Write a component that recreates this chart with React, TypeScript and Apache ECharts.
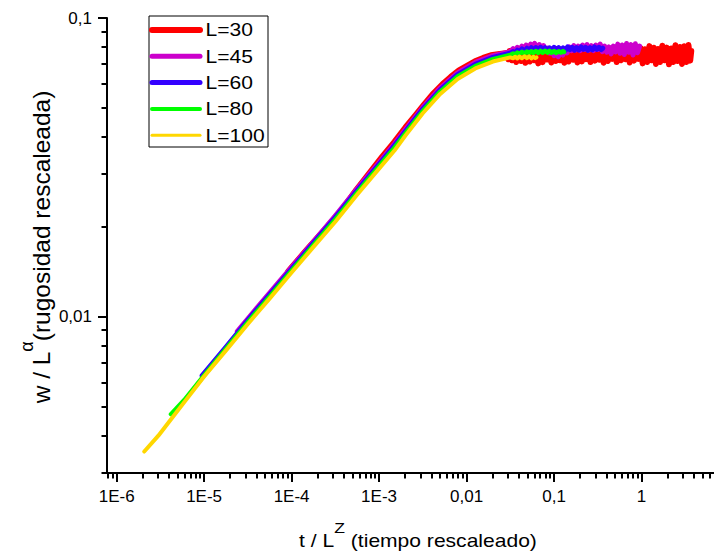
import React, { useEffect, useRef } from 'react';
import * as echarts from 'echarts';

const seriesNames = ['L=30', 'L=45', 'L=60', 'L=80', 'L=100'];
const seriesColors = ['#FF0000', '#CC00CC', '#3300FF', '#00FF00', '#FFD700'];
const seriesWidths = [6, 5, 5, 4.5, 4];
const legendWidths = [6, 5, 5, 4, 3];

const xTickValues = [1e-6, 1e-5, 1e-4, 1e-3, 0.01, 0.1, 1];
const xTickLabels = ['1E-6', '1E-5', '1E-4', '1E-3', '0,01', '0,1', '1'];
const yTickValues = [0.01, 0.1];
const yTickLabels = ['0,01', '0,1'];
const xRange = [7.76e-7, 10];
const yRange = [0.003, 0.1];

const dataL30: [number, number][] = [
  [9.2e-5, 0.0142], [1.5e-4, 0.0168], [2.4e-4, 0.0196], [3.7e-4, 0.0227], [5.5e-4, 0.0266],
  [8e-4, 0.0306], [1.1e-3, 0.0345], [1.5e-3, 0.0385], [2e-3, 0.043], [2.6e-3, 0.0472],
  [3.3e-3, 0.0515], [4.2e-3, 0.056], [5.3e-3, 0.06], [6.6e-3, 0.0635], [8.2e-3, 0.0668],
  [0.01, 0.069], [0.0125, 0.0716], [0.0155, 0.0735], [0.019, 0.075], [0.024, 0.0758],
  [0.028, 0.0762], [0.030, 0.0728], [0.031, 0.0775], [0.033, 0.0722], [0.035, 0.0768],
  [0.037, 0.0712], [0.040, 0.0758], [0.042, 0.0718], [0.044, 0.0772], [0.047, 0.0708],
  [0.050, 0.0765], [0.053, 0.0715], [0.056, 0.078], [0.059, 0.0722], [0.062, 0.077],
  [0.066, 0.0705], [0.070, 0.0762], [0.074, 0.0712], [0.079, 0.0775], [0.083, 0.0726],
  [0.088, 0.0768], [0.093, 0.071], [0.099, 0.076], [0.105, 0.0718], [0.11, 0.0778],
  [0.117, 0.0722], [0.124, 0.077], [0.131, 0.0708], [0.139, 0.0766], [0.147, 0.0715],
  [0.156, 0.0782], [0.165, 0.0725], [0.175, 0.0772], [0.185, 0.071], [0.196, 0.0768],
  [0.208, 0.0716], [0.22, 0.0785], [0.233, 0.0728], [0.247, 0.0775], [0.261, 0.0712],
  [0.277, 0.077], [0.293, 0.072], [0.31, 0.0788], [0.329, 0.0725], [0.348, 0.0776],
  [0.369, 0.0708], [0.39, 0.0772], [0.413, 0.0718], [0.438, 0.079], [0.464, 0.073],
  [0.491, 0.0778], [0.52, 0.0712], [0.55, 0.0775], [0.583, 0.0722], [0.617, 0.0792],
  [0.654, 0.0728], [0.692, 0.078], [0.733, 0.071], [0.776, 0.0774], [0.822, 0.072],
  [0.87, 0.0795], [0.922, 0.073], [0.976, 0.0792], [1.03, 0.0705], [1.09, 0.0786],
  [1.16, 0.0712], [1.23, 0.0805], [1.3, 0.0722], [1.38, 0.0795], [1.46, 0.0702],
  [1.54, 0.0788], [1.63, 0.0712], [1.73, 0.0808], [1.83, 0.0722], [1.94, 0.0796],
  [2.06, 0.07], [2.18, 0.079], [2.3, 0.0712], [2.44, 0.081], [2.58, 0.0718],
  [2.74, 0.08], [2.9, 0.0702], [3.07, 0.0805], [3.25, 0.0712], [3.44, 0.0812],
  [3.6, 0.072], [3.7, 0.0775],
];

const dataL45: [number, number][] = [
  [2.4e-5, 0.00893], [4e-5, 0.0107], [6.5e-5, 0.01265], [1e-4, 0.01465], [1.8e-4, 0.0179],
  [3.16e-4, 0.02178], [5.6e-4, 0.0268], [1e-3, 0.0328], [1.5e-3, 0.0379], [2e-3, 0.0423],
  [3.16e-3, 0.0502], [5e-3, 0.0583], [7.9e-3, 0.0655], [0.0126, 0.071], [0.02, 0.0748],
  [0.0316, 0.0772], [0.034, 0.079], [0.036, 0.0772], [0.038, 0.0798], [0.040, 0.0778],
  [0.043, 0.0805], [0.045, 0.0782], [0.048, 0.0812], [0.051, 0.0785], [0.054, 0.0818],
  [0.057, 0.079], [0.060, 0.0822], [0.064, 0.0795], [0.068, 0.0815], [0.072, 0.0788],
  [0.076, 0.0808], [0.080, 0.0775], [0.085, 0.0792], [0.090, 0.0762], [0.095, 0.078],
  [0.1, 0.0748], [0.106, 0.077], [0.112, 0.0742], [0.119, 0.0768], [0.126, 0.0752],
  [0.133, 0.0785], [0.141, 0.0765], [0.15, 0.08], [0.159, 0.0778], [0.168, 0.0808],
  [0.178, 0.0782], [0.189, 0.0805], [0.2, 0.0778], [0.212, 0.0812], [0.225, 0.0785],
  [0.238, 0.0815], [0.252, 0.078], [0.267, 0.0808], [0.283, 0.0778], [0.3, 0.0812],
  [0.318, 0.0785], [0.337, 0.0818], [0.357, 0.0772], [0.378, 0.0805], [0.4, 0.0768],
  [0.424, 0.08], [0.45, 0.0758], [0.476, 0.0805], [0.505, 0.077], [0.535, 0.0818],
  [0.567, 0.0762], [0.6, 0.0812], [0.636, 0.0755], [0.674, 0.0822], [0.714, 0.0768],
  [0.757, 0.0815], [0.8, 0.0752], [0.85, 0.082], [0.9, 0.0765], [0.95, 0.0805],
];

const dataL60: [number, number][] = [
  [9.5e-6, 0.00635], [1.8e-5, 0.00795], [3.16e-5, 0.00973], [5.6e-5, 0.01185], [1e-4, 0.01445],
  [1.8e-4, 0.0177], [3.16e-4, 0.02148], [5.6e-4, 0.0264], [1e-3, 0.03236], [1.5e-3, 0.0374],
  [2e-3, 0.0417], [3.16e-3, 0.04955], [5e-3, 0.0575], [7.9e-3, 0.0646], [0.0126, 0.07],
  [0.02, 0.0738], [0.0316, 0.0762], [0.034, 0.0772], [0.036, 0.0765], [0.038, 0.078],
  [0.040, 0.077], [0.043, 0.0788], [0.046, 0.0775], [0.049, 0.0792], [0.052, 0.0778],
  [0.055, 0.0795], [0.058, 0.078], [0.062, 0.0796], [0.066, 0.0782], [0.07, 0.0798],
  [0.074, 0.078], [0.079, 0.0795], [0.084, 0.0778], [0.089, 0.0794], [0.094, 0.078],
  [0.1, 0.0798], [0.106, 0.0782], [0.113, 0.0796], [0.12, 0.0778], [0.127, 0.0794],
  [0.135, 0.078], [0.143, 0.08], [0.152, 0.0784], [0.161, 0.0798], [0.171, 0.078],
  [0.181, 0.0796], [0.192, 0.0782], [0.204, 0.08], [0.216, 0.0785], [0.229, 0.0798],
  [0.243, 0.078], [0.258, 0.0795], [0.274, 0.0782], [0.29, 0.08], [0.308, 0.0785],
  [0.326, 0.0798], [0.346, 0.0784], [0.36, 0.0792],
];

const dataL80: [number, number][] = [
  [4.18e-6, 0.00472], [6e-6, 0.00528], [1e-5, 0.00637], [1.8e-5, 0.00785], [3.16e-5, 0.0096],
  [5.6e-5, 0.01168], [1e-4, 0.01425], [1.8e-4, 0.01745], [3.16e-4, 0.02118], [5.6e-4, 0.026],
  [1e-3, 0.0319], [1.5e-3, 0.0368], [2e-3, 0.0411], [3.16e-3, 0.0488], [5e-3, 0.0567],
  [7.9e-3, 0.0637], [0.0126, 0.069], [0.02, 0.0728], [0.0316, 0.0752], [0.034, 0.076],
  [0.036, 0.0755], [0.038, 0.0766], [0.040, 0.0758], [0.043, 0.077], [0.046, 0.076],
  [0.049, 0.0772], [0.052, 0.0762], [0.055, 0.0774], [0.058, 0.0763], [0.062, 0.0775],
  [0.066, 0.0764], [0.07, 0.0776], [0.074, 0.0765], [0.079, 0.0777], [0.084, 0.0766],
  [0.089, 0.0776], [0.094, 0.0765], [0.1, 0.0775], [0.106, 0.0764], [0.113, 0.0774],
  [0.12, 0.0766], [0.127, 0.0775], [0.13, 0.077],
];

const dataL100: [number, number][] = [
  [2.07e-6, 0.00354], [3e-6, 0.004], [4e-6, 0.00446], [6e-6, 0.0052], [1e-5, 0.00631],
  [1.8e-5, 0.00775], [3.16e-5, 0.00946], [5.6e-5, 0.0115], [1e-4, 0.01406], [1.8e-4, 0.0172],
  [3.16e-4, 0.0208], [5.6e-4, 0.0256], [1e-3, 0.03133], [1.5e-3, 0.036], [2e-3, 0.0404],
  [3.16e-3, 0.048], [5e-3, 0.0557], [7.9e-3, 0.0625], [0.0126, 0.0678], [0.02, 0.0715],
  [0.0316, 0.0738], [0.034, 0.0733], [0.036, 0.0742], [0.038, 0.0732], [0.040, 0.0743],
  [0.043, 0.0733], [0.046, 0.0745], [0.049, 0.0734], [0.052, 0.0744], [0.055, 0.0733],
  [0.058, 0.0742], [0.061, 0.0734], [0.063, 0.0738],
];

const allData = [dataL30, dataL45, dataL60, dataL80, dataL100];

const FONT = 'Liberation Sans, Arial, sans-serif';

function minorTicks(range: number[]): number[] {
  const out: number[] = [];
  const lo = Math.log10(range[0]);
  const hi = Math.log10(range[1]);
  for (let n = Math.floor(lo) - 1; n <= Math.ceil(hi); n++) {
    for (let k = 2; k <= 9; k++) {
      const v = Math.log10(k) + n;
      if (v >= lo - 1e-9 && v <= hi + 1e-9) out.push(v);
    }
  }
  return out;
}

function labelFor(values: number[], labels: string[], v: number): string {
  for (let i = 0; i < values.length; i++) {
    if (Math.abs(Math.log10(values[i]) - v) < 1e-6) return labels[i];
  }
  return '';
}

export default function App() {
  const ref = useRef<HTMLDivElement>(null);
  useEffect(() => {
    const chart = echarts.init(ref.current!, null, { renderer: 'svg' });
    const xMin = Math.log10(xRange[0]);
    const xMax = Math.log10(xRange[1]);
    const yMin = Math.log10(yRange[0]);
    const yMax = Math.log10(yRange[1]);
    const xMajor = xTickValues.map((v) => Math.log10(v));
    const yMajor = yTickValues.map((v) => Math.log10(v));
    const axisLineStyle = { color: '#000', width: 2 };
    const tickStyle = { color: '#000', width: 2 };
    const minorLen = 5.5;

    const legendTop = 30;
    const legendStep = 26.3;
    const graphic: any[] = [
      {
        type: 'rect',
        shape: { x: 149, y: 16, width: 119, height: 131 },
        style: { fill: '#fff', stroke: '#000', lineWidth: 1 },
        z: 100,
      },
    ];
    seriesNames.forEach((name, i) => {
      const y = legendTop + i * legendStep;
      graphic.push({
        type: 'line',
        shape: { x1: 152, y1: y, x2: 200, y2: y },
        style: { stroke: seriesColors[i], lineWidth: legendWidths[i], lineCap: 'round' },
        z: 101,
      });
      graphic.push({
        type: 'text',
        x: 205.5,
        y: y,
        scaleX: 1.17,
        style: {
          text: name,
          x: 0,
          y: 0,
          fill: '#000',
          fontSize: 18,
          fontFamily: FONT,
          align: 'left',
          verticalAlign: 'middle',
        },
        z: 101,
      });
    });
    graphic.push({
      type: 'text',
      x: 418,
      y: 535,
      scaleX: 1.17,
      style: {
        text: '{m|t / L}{s|Z}{m| (tiempo rescaleado)}',
        x: 0,
        y: 0,
        fill: '#000',
        align: 'center',
        verticalAlign: 'middle',
        rich: {
          m: { fontSize: 18, fontFamily: FONT, lineHeight: 30, verticalAlign: 'bottom', fill: '#000' },
          s: { fontSize: 15, fontFamily: FONT, lineHeight: 15, verticalAlign: 'top', fill: '#000' },
        },
      },
    });
    graphic.push({
      type: 'text',
      x: 36,
      y: 247,
      rotation: Math.PI / 2,
      style: {
        text: '{m|w / L}{s|α}{m|(rugosidad rescaleada)}',
        x: 0,
        y: 0,
        fill: '#000',
        align: 'center',
        verticalAlign: 'middle',
        rich: {
          m: { fontSize: 24.5, fontFamily: FONT, lineHeight: 36, verticalAlign: 'bottom', fill: '#000' },
          s: { fontSize: 18, fontFamily: FONT, lineHeight: 18, verticalAlign: 'top', fill: '#000' },
        },
      },
    });

    const lineSeries = allData.map((d, i) => ({
      name: seriesNames[i],
      type: 'line',
      xAxisIndex: 0,
      yAxisIndex: 0,
      showSymbol: false,
      symbol: 'none',
      z: 2 + i,
      data: d.map(([t, w]) => [Math.log10(t), Math.log10(w)]),
      lineStyle: { color: seriesColors[i], width: seriesWidths[i], cap: 'round', join: 'round' },
    }));

    const option: any = {
      animation: false,
      backgroundColor: '#fff',
      grid: { left: 107, top: 18, right: -15, bottom: 82, containLabel: false, outerBoundsMode: 'none' },
      xAxis: {
        type: 'value',
        min: xMin,
        max: xMax,
        position: 'bottom',
        axisLine: { show: true, onZero: false, lineStyle: axisLineStyle },
        axisTick: { show: true, customValues: xMajor, length: 9, lineStyle: tickStyle },
        axisLabel: {
          show: true,
          customValues: xMajor,
          formatter: (v: number) => labelFor(xTickValues, xTickLabels, v),
          fontSize: 17,
          fontFamily: FONT,
          color: '#000',
          margin: 15,
        },
        splitLine: { show: false },
      },
      yAxis: {
        type: 'value',
        min: yMin,
        max: yMax,
        position: 'left',
        axisLine: { show: true, onZero: false, lineStyle: axisLineStyle },
        axisTick: { show: true, customValues: yMajor, length: 9, lineStyle: tickStyle },
        axisLabel: {
          show: true,
          customValues: yMajor,
          formatter: (v: number) => labelFor(yTickValues, yTickLabels, v),
          fontSize: 17,
          fontFamily: FONT,
          color: '#000',
          margin: 15,
        },
        splitLine: { show: false },
      },
      series: lineSeries,
      graphic,
    };
    chart.setOption(option);

    // Minor (logarithmic) ticks, placed through the chart's own axis scales.
    const tickGraphics: any[] = [];
    minorTicks(xRange).forEach((v) => {
      const p = chart.convertToPixel({ gridIndex: 0 }, [v, yMin]) as number[];
      if (!p || !isFinite(p[0]) || !isFinite(p[1])) return;
      const x = Math.round(p[0]);
      tickGraphics.push({
        type: 'line',
        shape: { x1: x, y1: p[1], x2: x, y2: p[1] + minorLen },
        style: { stroke: '#000', lineWidth: 2 },
        z: 50,
      });
    });
    minorTicks(yRange).forEach((v) => {
      const p = chart.convertToPixel({ gridIndex: 0 }, [xMin, v]) as number[];
      if (!p || !isFinite(p[0]) || !isFinite(p[1])) return;
      const y = Math.round(p[1]);
      tickGraphics.push({
        type: 'line',
        shape: { x1: p[0] - minorLen, y1: y, x2: p[0], y2: y },
        style: { stroke: '#000', lineWidth: 2 },
        z: 50,
      });
    });
    chart.setOption({ graphic: [...graphic, ...tickGraphics] });

    return () => chart.dispose();
  }, []);
  return (
    <div
      ref={ref}
      style={{ position: 'fixed', left: 0, top: 0, width: 714, height: 555, background: '#fff' }}
    />
  );
}
